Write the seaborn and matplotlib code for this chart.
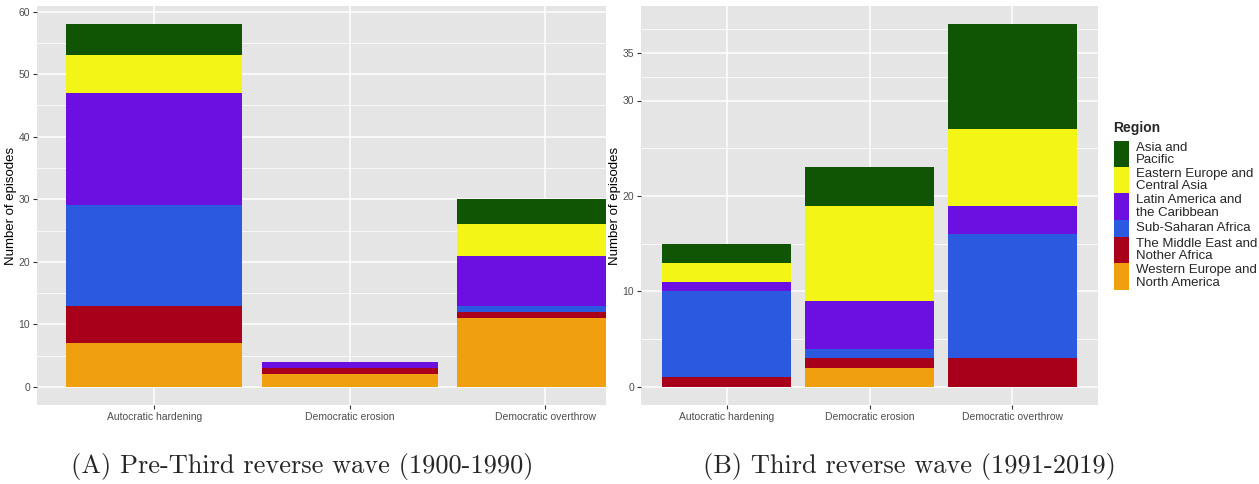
import numpy as np
import pandas as pd
import matplotlib.pyplot as plt
import seaborn as sns
from matplotlib.patches import Rectangle

types = ["Autocratic hardening", "Democratic erosion", "Democratic overthrow"]

# legend order (top of stack first)
region_labels = ["Asia and\nPacific", "Eastern Europe and\nCentral Asia",
                 "Latin America and\nthe Caribbean", "Sub-Saharan Africa",
                 "The Middle East and\nNother Africa", "Western Europe and\nNorth America"]
region_colors = ["#0f5503", "#f2f516", "#6c10e2", "#2b5ae0", "#a8001b", "#f0a00e"]

# (A) 1900-1990, one value per episode type
pre_asia = [5, 0, 4]
pre_eeca = [6, 0, 5]
pre_latam = [18, 1, 8]
pre_ssa = [16, 0, 1]
pre_mena = [6, 1, 1]
pre_wena = [7, 2, 11]

# (B) 1991-2019
third_asia = [2, 4, 11]
third_eeca = [2, 10, 8]
third_latam = [1, 5, 3]
third_ssa = [9, 1, 13]
third_mena = [1, 1, 3]
third_wena = [0, 2, 0]

pre_ticks = [0, 10, 20, 30, 40, 50, 60]
third_ticks = [0, 10, 20, 30, 35]

sns.set_theme(style="darkgrid")
plt.rcParams["font.family"] = ["Liberation Sans", "DejaVu Sans"]

W, H = 1259, 484
fig = plt.figure(figsize=(W / 100, H / 100), dpi=100, facecolor="white")


def draw_panel(ax, series, yticks, ylim, xlim):
    # series in legend order; stack bottom->top is reversed
    cols = [f"r{i}" for i in range(len(series))]
    df = pd.DataFrame({"type": types})
    for c, vals in zip(cols, series):
        df[c] = vals
    cum = df[cols[::-1]].cumsum(axis=1)
    # draw tallest layer first so lower layers overlay it
    for i, c in enumerate(cols):
        d = pd.DataFrame({"type": types, "top": cum[c]})
        sns.barplot(data=d, x="type", y="top", color=region_colors[i], width=0.9,
                    saturation=1, linewidth=0, errorbar=None, ax=ax, order=types)
    ax.set_facecolor("#E5E5E5")
    ax.set_yticks(yticks)
    minor = [(a + b) / 2 for a, b in zip(yticks[:-1], yticks[1:])]
    minor.append(yticks[-1] + (yticks[-1] - yticks[-2]) / 2)
    ax.set_yticks(minor, minor=True)
    ax.set_xlim(*xlim)
    ax.set_ylim(*ylim)
    ax.grid(which="major", color="white", linewidth=1.1)
    ax.grid(which="minor", axis="y", color="white", linewidth=0.55)
    ax.tick_params(which="major", length=3, width=0.8, color="#333333",
                   labelcolor="#4d4d4d", labelsize=7.5, pad=2, left=True, bottom=True)
    ax.tick_params(which="minor", length=0)
    ax.set_xlabel("")
    ax.set_ylabel("Number of episodes", fontsize=9.5, color="black", labelpad=1)
    for s in ax.spines.values():
        s.set_visible(False)
    ax.set_axisbelow(True)


def px_axes(x0, y0, x1, y1):
    return fig.add_axes([x0 / W, 1 - y1 / H, (x1 - x0) / W, (y1 - y0) / H])


ax1 = px_axes(37, 6, 606, 405)
draw_panel(ax1, [pre_asia, pre_eeca, pre_latam, pre_ssa, pre_mena, pre_wena],
           pre_ticks, (-2.9, 60.9), (-0.6, 2.31))

ax2 = px_axes(641, 6, 1098, 405)
draw_panel(ax2, [third_asia, third_eeca, third_latam, third_ssa, third_mena, third_wena],
           third_ticks, (-1.9, 39.9), (-0.6, 2.6))

# legend
fig.text(1113 / W, 1 - 128 / H, "Region", fontsize=10, fontweight="bold",
         ha="left", va="center")
key_edges = [141, 167, 193, 220, 237, 263, 290]
for i, (lab, col) in enumerate(zip(region_labels, region_colors)):
    top, bot = key_edges[i], key_edges[i + 1]
    fig.add_artist(Rectangle((1114 / W, 1 - bot / H), 15 / W, (bot - top) / H,
                             transform=fig.transFigure, facecolor=col, edgecolor="none"))
    fig.text(1136 / W, 1 - (top + bot) / 2 / H, lab, fontsize=9.5, ha="left",
             va="center", linespacing=1.1)

# captions
fig.text(302 / W, 1 - 466 / H, "(A) Pre-Third reverse wave (1900-1990)",
         fontsize=19, family="cmr10", ha="center", va="center")
fig.text(909 / W, 1 - 466 / H, "(B) Third reverse wave (1991-2019)",
         fontsize=19, family="cmr10", ha="center", va="center")

fig.savefig("out.png", dpi=100, facecolor="white")
